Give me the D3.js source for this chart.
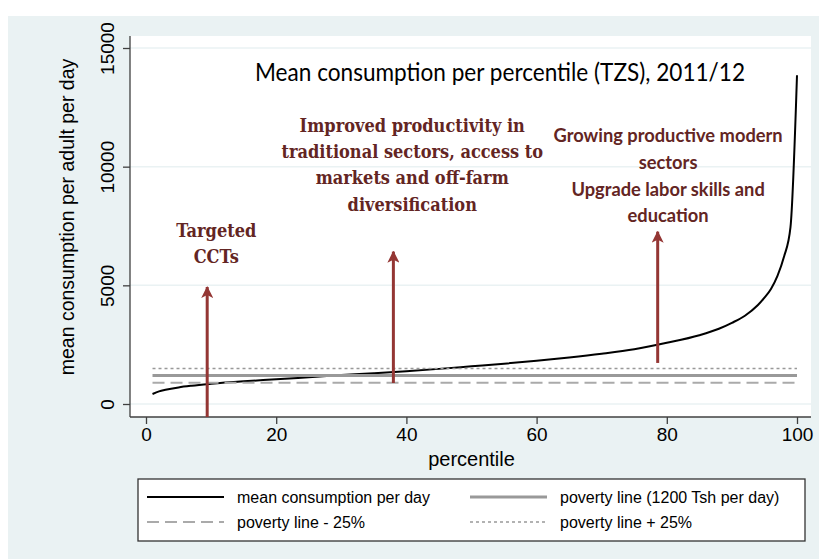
<!DOCTYPE html>
<html><head><meta charset="utf-8">
<script src="https://cdn.jsdelivr.net/npm/d3@7"></script>
<style>body{margin:0;background:#fff}svg{display:block}</style>
</head><body>
<script>
// ---- data ----
const percentiles = [1,2,3,5,7,10,15,20,25,30,35,40,45,50,55,60,65,70,75,80,85,88,90,92,94,95,96,97,98,99,100];
const meanConsumption = [420,530,600,700,770,850,955,1040,1130,1220,1300,1385,1480,1590,1700,1820,1960,2120,2310,2580,2900,3170,3420,3720,4170,4480,4850,5400,6200,7450,13850];
const povertyLine = 1200;
const povertyMinus = 900;
const povertyPlus = 1500;
const xTicks = [0,20,40,60,80,100];
const yTicks = [0,5000,10000,15000];
const titleText = "Mean consumption per percentile (TZS), 2011/12";
const arrows = [ {x:9.4, from:-560, to:4930}, {x:38, from:885, to:6420}, {x:78.6, from:1730, to:7260} ];
const notes = [
  {x:10.8, y:[7050,5950], lines:["Targeted","CCTs"], serif:true},
  {x:40.9, y:[11450,10350,9250,8150], lines:["Improved productivity in","traditional sectors, access to","markets and off-farm","diversification"], serif:true},
  {x:80.2, y:[11050,9900,8760,7660], lines:["Growing productive modern","sectors","Upgrade labor skills and","education"], serif:false}
];
const legendItems = [
  {label:"mean consumption per day", stroke:"#000", w:2, dash:null},
  {label:"poverty line (1200 Tsh per day)", stroke:"#999", w:3, dash:null},
  {label:"poverty line - 25%", stroke:"#aaa", w:2, dash:"12,6"},
  {label:"poverty line + 25%", stroke:"#999", w:1.5, dash:"3,3"}
];

// ---- layout ----
const W = 819, H = 559;
const svg = d3.select("body").append("svg").attr("width", W).attr("height", H);
svg.append("rect").attr("x",0).attr("y",0).attr("width",W).attr("height",H).attr("fill","#fff");
svg.append("rect").attr("x",8).attr("y",16).attr("width",W-8).attr("height",H-16).attr("fill","#eaf2f3");

const plotL = 130, plotR = 811, plotT = 36, plotB = 417;
svg.append("rect").attr("x",plotL).attr("y",plotT).attr("width",plotR-plotL).attr("height",plotB-plotT).attr("fill","#fff");

const x = d3.scaleLinear().domain([0,100]).range([146,797]);
const y = d3.scaleLinear().domain([0,15000]).range([404,48]);

// gridlines
svg.append("g").selectAll("line").data(yTicks).join("line")
  .attr("x1",plotL).attr("x2",plotR).attr("y1",d=>y(d)).attr("y2",d=>y(d))
  .attr("stroke","#eaf2f3").attr("stroke-width",1.5);

// axes
const axisColor = "#404040";
const gx = svg.append("g").attr("transform",`translate(0,${plotB})`)
  .call(d3.axisBottom(x).tickValues(xTicks).tickSize(7).tickPadding(4).tickSizeOuter(0));
gx.select(".domain").attr("d",`M${plotL},0H${plotR}`);
const gy = svg.append("g").attr("transform",`translate(${plotL},0)`)
  .call(d3.axisLeft(y).tickValues(yTicks).tickFormat(d3.format("d")).tickSize(7).tickPadding(4).tickSizeOuter(0));
gy.select(".domain").attr("d",`M0,${plotT}V${plotB}`);
[gx,gy].forEach(g=>{
  g.selectAll(".domain,.tick line").attr("stroke",axisColor).attr("stroke-width",1.3);
  g.selectAll("text").attr("fill","#000").attr("font-family","'Liberation Sans', Arial, sans-serif").attr("font-size",19);
});
gy.selectAll(".tick text").attr("text-anchor","middle").attr("dy",null)
  .attr("transform","translate(-16,0) rotate(-90)").attr("x",0).attr("y",0);

svg.append("text").attr("x",x(50)).attr("y",466).attr("text-anchor","middle")
  .attr("font-family","'Liberation Sans', Arial, sans-serif").attr("font-size",20).text("percentile");
svg.append("text").attr("transform",`translate(74,${217}) rotate(-90)`).attr("text-anchor","middle")
  .attr("font-family","'Liberation Sans', Arial, sans-serif").attr("font-size",19.5).text("mean consumption per adult per day");

// curve
const pts = percentiles.map((p,i)=>[p, meanConsumption[i]]);
svg.append("path").datum(pts)
  .attr("d", d3.line().x(d=>x(d[0])).y(d=>y(d[1])).curve(d3.curveMonotoneX))
  .attr("fill","none").attr("stroke","#000").attr("stroke-width",2);

// poverty lines
const pl = [
  {v:povertyLine, stroke:"#999", w:3, dash:null},
  {v:povertyMinus, stroke:"#aaa", w:2, dash:"12,6"},
  {v:povertyPlus, stroke:"#999", w:1.5, dash:"3,3"}
];
svg.append("g").selectAll("line").data(pl).join("line")
  .attr("x1",x(1)).attr("x2",x(100)).attr("y1",d=>y(d.v)).attr("y2",d=>y(d.v))
  .attr("stroke",d=>d.stroke).attr("stroke-width",d=>d.w).attr("stroke-dasharray",d=>d.dash);

// title
svg.append("text").attr("x",500).attr("y",81).attr("text-anchor","middle")
  .attr("font-family","Lato, 'Open Sans', sans-serif").attr("font-size",25).attr("fill","#000")
  .attr("textLength",490).attr("lengthAdjust","spacingAndGlyphs")
  .text(titleText);

// arrows
const arrowColor = "#943634";
const defs = svg.append("defs");
defs.append("marker").attr("id","ah").attr("viewBox","0 0 12 12").attr("refX",11).attr("refY",6)
  .attr("markerWidth",12).attr("markerHeight",12).attr("markerUnits","userSpaceOnUse").attr("orient","auto")
  .append("path").attr("d","M0,0 L12,6 L0,12 L3,6 Z").attr("fill",arrowColor);
svg.append("g").selectAll("line").data(arrows).join("line")
  .attr("x1",d=>x(d.x)).attr("x2",d=>x(d.x)).attr("y1",d=>Math.min(y(d.from),plotB)).attr("y2",d=>y(d.to))
  .attr("stroke",arrowColor).attr("stroke-width",3).attr("marker-end","url(#ah)");

// notes
const noteColor = "#632523";
notes.forEach(n=>{
  svg.append("g").selectAll("text").data(n.lines).join("text")
    .attr("x",x(n.x)).attr("y",(d,i)=>y(n.y[i])).attr("text-anchor","middle")
    .attr("font-family", n.serif ? "'DejaVu Serif', serif" : "Lato, 'Open Sans', sans-serif")
    .attr("font-stretch", n.serif ? "condensed" : null)
    .attr("font-weight","bold").attr("font-size", n.serif?18:18.3).attr("fill",noteColor)
    .text(d=>d);
});

// legend
const lg = svg.append("g");
lg.append("rect").attr("x",138).attr("y",479).attr("width",667).attr("height",62)
  .attr("fill","#fff").attr("stroke","#333").attr("stroke-width",1.3);
const colX = [147,470], rowY = [497,522];
legendItems.forEach((it,i)=>{
  const cx = colX[i%2], cy = rowY[Math.floor(i/2)];
  lg.append("line").attr("x1",cx).attr("x2",cx+77).attr("y1",cy).attr("y2",cy)
    .attr("stroke",it.stroke).attr("stroke-width",it.w).attr("stroke-dasharray",it.dash);
  lg.append("text").attr("x",cx+90).attr("y",cy+5.5)
    .attr("font-family","'Liberation Sans', Arial, sans-serif").attr("font-size",16).text(it.label);
});
</script>
</body></html>
